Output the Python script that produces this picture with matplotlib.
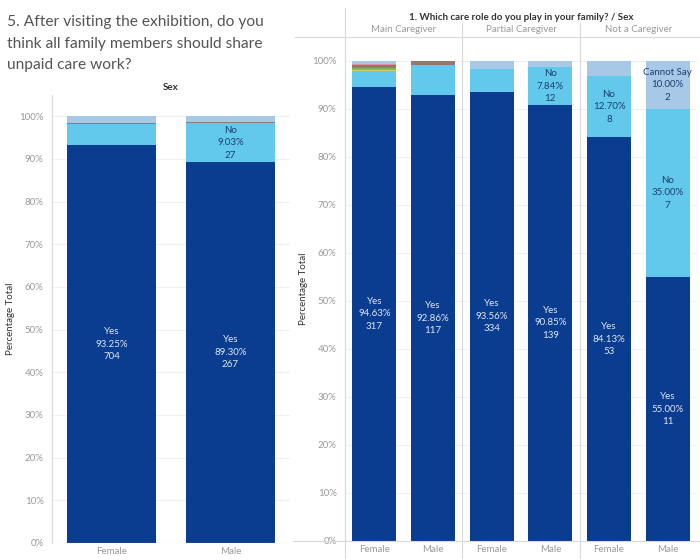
import matplotlib
matplotlib.use("Agg")
import matplotlib.pyplot as plt
import numpy as np

plt.rcParams['font.family'] = ['Lato', 'DejaVu Sans']

W, H = 700, 560

# answer categories, stacked bottom -> top
answers = ["Yes", "No", "Other 1", "Other 2", "Other 3", "Other 4", "Cannot Say"]
colors = ["#0a3d8f", "#62c8ec", "#d6d35a", "#86b562", "#97796b", "#e08f9c", "#a8c8e8"]

# left chart: by sex
sex = ["Female", "Male"]
left_counts = {
    "Female": [704, 37, 0, 1, 1, 0, 12],
    "Male": [267, 27, 0, 0, 1, 0, 4],
}
left_labelled = {"Female": ["Yes"], "Male": ["Yes", "No"]}

# right chart: by care role and sex
roles = ["Main Caregiver", "Partial Caregiver", "Not a Caregiver"]
right_counts = {
    ("Main Caregiver", "Female"): [317, 11, 1, 1, 2, 1, 2],
    ("Main Caregiver", "Male"): [117, 8, 0, 0, 1, 0, 0],
    ("Partial Caregiver", "Female"): [334, 17, 0, 0, 0, 0, 6],
    ("Partial Caregiver", "Male"): [139, 12, 0, 0, 0, 0, 2],
    ("Not a Caregiver", "Female"): [53, 8, 0, 0, 0, 0, 2],
    ("Not a Caregiver", "Male"): [11, 7, 0, 0, 0, 0, 2],
}
right_labelled = {
    ("Main Caregiver", "Female"): ["Yes"],
    ("Main Caregiver", "Male"): ["Yes"],
    ("Partial Caregiver", "Female"): ["Yes"],
    ("Partial Caregiver", "Male"): ["Yes", "No"],
    ("Not a Caregiver", "Female"): ["Yes", "No"],
    ("Not a Caregiver", "Male"): ["Yes", "No", "Cannot Say"],
}

GRID = "#f0f0f0"
LINE = "#d9d9d9"
TICK = "#9a9a9a"


def px_axes(fig, x0, y0, x1, y1):
    # pixel box (top-left origin) -> figure fraction
    return fig.add_axes([x0 / W, 1 - y1 / H, (x1 - x0) / W, (y1 - y0) / H])


def draw_stack(ax, x, counts, labelled):
    total = sum(counts)
    bottom = 0
    for ans, c, col in zip(answers, counts, colors):
        if c == 0:
            continue
        pct = c / total * 100
        ax.bar(x, pct, bottom=bottom, width=0.75, color=col, linewidth=0)
        if ans in labelled:
            tc = "#dfe6f2" if ans == "Yes" else "#1d3f6e"
            ax.text(x, bottom + pct / 2, f"{ans}\n{pct:.2f}%\n{c}", ha="center", va="center",
                    fontsize=7, color=tc, linespacing=1.5)
        bottom += pct


def style(ax):
    ax.set_ylim(0, 105)
    ax.set_yticks(np.arange(0, 101, 10))
    ax.set_yticklabels([f"{v}%" for v in range(0, 101, 10)])
    ax.tick_params(axis="y", length=0, labelsize=7, labelcolor=TICK, pad=6)
    ax.tick_params(axis="x", length=0, labelsize=7, labelcolor=TICK, pad=3)
    ax.grid(axis="y", color=GRID, linewidth=0.8)
    ax.set_axisbelow(True)
    for s in ["top", "right", "bottom"]:
        ax.spines[s].set_visible(False)
    ax.spines["left"].set_color(LINE)
    ax.set_ylabel("Percentage Total", fontsize=7, color="#333333")


fig = plt.figure(figsize=(W / 100, H / 100), dpi=100)

fig.text(7 / W, 1 - 15 / H, "5. After visiting the exhibition, do you\nthink all family members should share\nunpaid care work?",
         ha="left", va="top", fontsize=11.2, color="#555555", linespacing=1.7)

# left chart
axl = px_axes(fig, 52, 95, 290, 543)
for i, s in enumerate(sex):
    draw_stack(axl, i, left_counts[s], left_labelled[s])
axl.set_xlim(-0.5, 1.5)
axl.set_xticks(range(len(sex)))
axl.set_xticklabels(sex)
style(axl)
axl.yaxis.set_label_coords(-0.155, 0.5)
axl.axhline(0, color=LINE, linewidth=0.8)
fig.text(171 / W, 1 - 87 / H, "Sex", ha="center", va="center", fontsize=7, fontweight="bold", color="#333333")

# right chart
axr = px_axes(fig, 345, 37, 697, 541)
keys = [(r, s) for r in roles for s in sex]
for i, k in enumerate(keys):
    draw_stack(axr, i, right_counts[k], right_labelled[k])
axr.set_xlim(-0.5, len(keys) - 0.5)
axr.set_xticks(range(len(keys)))
axr.set_xticklabels([k[1] for k in keys])
style(axr)
axr.yaxis.set_label_coords(-0.105, 0.5)

# panel separators and header lines
fig.add_artist(plt.Line2D([293 / W, 1], [1 - 541 / H] * 2, color=LINE, linewidth=0.8))
fig.add_artist(plt.Line2D([295 / W, 1], [1 - 37 / H] * 2, color=LINE, linewidth=0.8))
fig.add_artist(plt.Line2D([345 / W] * 2, [1 - 558 / H, 1 - 8 / H], color=LINE, linewidth=0.8))
for j, r in enumerate(roles):
    cx = 345 + (j + 0.5) * 352 / 3
    fig.text(cx / W, 1 - 30 / H, r, ha="center", va="center", fontsize=7, color=TICK)
    if j > 0:
        xs = 345 + j * 352 / 3
        fig.add_artist(plt.Line2D([xs / W] * 2, [1 - 558 / H, 1 - 23 / H], color=LINE, linewidth=0.8))
fig.text(521 / W, 1 - 17 / H, "1. Which care role do you play in your family? / Sex",
         ha="center", va="center", fontsize=7, fontweight="bold", color="#333333")

fig.savefig("out.png", dpi=100)
